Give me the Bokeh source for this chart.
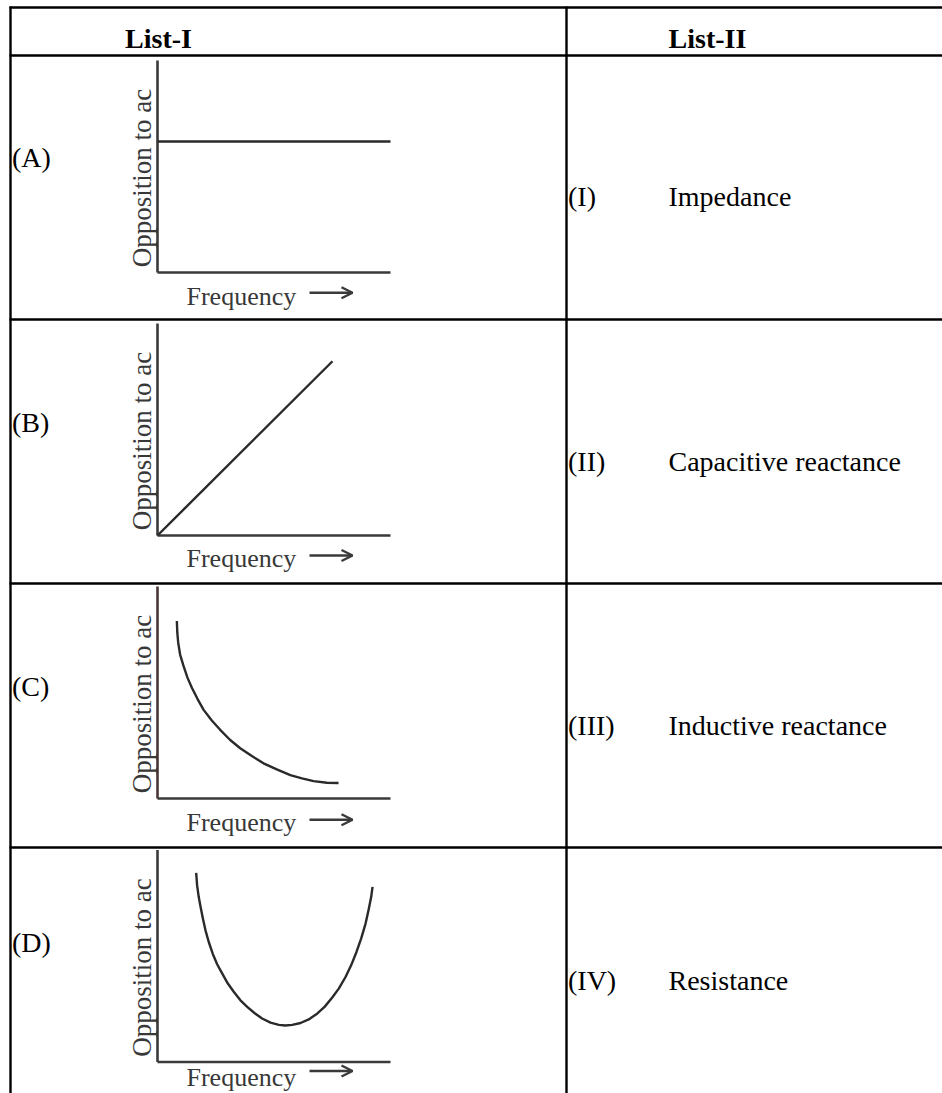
import math
from bokeh.plotting import figure
from bokeh.models import Range1d, Arrow, OpenHead
from bokeh.core.properties import value
from bokeh.embed import file_html
from bokeh.resources import INLINE

# ---------------- data ----------------
headers = ["List-I", "List-II"]
row_letters = ["(A)", "(B)", "(C)", "(D)"]
list2_numerals = ["(I)", "(II)", "(III)", "(IV)"]
list2_names = ["Impedance", "Capacitive reactance", "Inductive reactance", "Resistance"]
y_label = "Opposition to ac"
x_label = "Frequency"

# curves, in % of each small graph's axis length (frequency, opposition)
a_freq = [0, 100]
a_opp = [61.8, 61.8]
b_freq = [0, 75.1]
b_opp = [0, 82.2]
c_freq = [8.3, 8.5, 8.9, 9.7, 11.2, 12.9, 14.8, 17.2, 19.8, 23.3, 26.9, 31.2, 35.5, 40.5,
          45.5, 51.2, 57.0, 62.0, 67.0, 72.7, 77.7]
c_opp = [83.7, 78.2, 73.4, 67.9, 62.4, 56.9, 52.1, 46.9, 41.8, 36.8, 32.4, 27.6, 23.7, 20.0,
         16.6, 13.7, 11.0, 9.5, 8.2, 7.4, 7.3]
d_freq = [16.6, 17.0, 17.7, 18.5, 19.5, 20.6, 22.0, 23.7, 25.6, 27.8, 30.2, 32.8, 35.6, 38.5,
          41.6, 44.9, 48.5, 52.1, 54.9, 57.8, 61.4, 64.9, 68.5, 71.7, 75.0, 77.8, 80.7, 83.1,
          85.4, 87.4, 89.3, 90.7, 91.7, 92.3]
d_opp = [89.2, 83.3, 77.8, 73.1, 67.6, 62.1, 56.6, 51.1, 46.1, 41.7, 37.0, 33.0, 29.1, 26.0,
         23.1, 20.5, 18.6, 17.5, 17.2, 17.5, 18.4, 20.1, 22.8, 26.0, 30.4, 34.6, 40.1, 45.6,
         51.9, 58.2, 65.3, 72.3, 77.8, 82.6]
curve_freqs = [a_freq, b_freq, c_freq, d_freq]
curve_opps = [a_opp, b_opp, c_opp, d_opp]

# ---------------- layout (page pixels) ----------------
W, H = 942, 1093
FONT = value("Liberation Serif")
row_lines = [7, 55, 319, 583, 847]
col_lines = [10, 566]
graph_x0, graph_x1 = 157, 390
graph_h = 212
graph_origin_y = [272, 535, 798, 1061.5]
letter_baseline = [157, 421.7, 686, 941.7]
list2_baseline = [196, 460.7, 725, 980]
freq_baseline = [296, 558, 822, 1077]
arrow_y = [292.3, 555, 819.3, 1070.5]

p = figure(width=W, height=H, x_range=Range1d(0, W), y_range=Range1d(H, 0),
           output_backend="svg", toolbar_location=None, min_border=0,
           x_axis_location=None, y_axis_location=None)
p.grid.visible = False
p.outline_line_color = None
p.background_fill_color = "white"
p.border_fill_color = "white"

# table rules
p.segment(x0=[9] * len(row_lines), y0=row_lines, x1=[W] * len(row_lines), y1=row_lines,
          line_color="black", line_width=2.4)
p.segment(x0=col_lines, y0=[6, 6], x1=col_lines, y1=[H, H],
          line_color="black", line_width=2.4)

# headers
p.text(x=[158, 707], y=[37.5, 37.5], text=headers, text_font=FONT, text_font_size="28px",
       text_font_style="bold", text_align="center", text_baseline="alphabetic", text_color="black")

# list I letters
p.text(x=[11.5] * 4, y=letter_baseline, text=row_letters, text_font=FONT, text_font_size="28px",
       text_align="left", text_baseline="alphabetic", text_color="black")
# list II
p.text(x=[567.5] * 4, y=list2_baseline, text=list2_numerals, text_font=FONT, text_font_size="28px",
       text_align="left", text_baseline="alphabetic", text_color="black")
p.text(x=[668] * 4, y=list2_baseline, text=list2_names, text_font=FONT, text_font_size="28px",
       text_align="left", text_baseline="alphabetic", text_color="black")

AX = "#3a3a3a"
CURVE = "#2a2a2a"
LBL = "#383838"
for i in range(4):
    o = graph_origin_y[i]
    sp = p.subplot(x_source=Range1d(0, 100), y_source=Range1d(0, 100),
                   x_target=Range1d(graph_x0, graph_x1), y_target=Range1d(o, o - graph_h))
    vcol = "#4a3636" if i == 2 else AX
    sp.line(x=[0, 0], y=[100, 0], line_color=vcol, line_width=2.6)
    sp.line(x=[0, 100], y=[0, 0], line_color=AX, line_width=2.6)
    sp.line(x=curve_freqs[i], y=curve_opps[i], line_color=CURVE, line_width=2.4, line_join="round")

    # axis labels
    p.text(x=[141], y=[o - 94.5], text=[y_label], angle=math.pi / 2, text_font=FONT,
           text_font_size="27px", text_align="center", text_baseline="alphabetic", text_color=LBL)
    p.text(x=[186], y=[freq_baseline[i]], text=[x_label], text_font=FONT, text_font_size="26px",
           text_align="left", text_baseline="alphabetic", text_color=LBL)
    p.add_layout(Arrow(end=OpenHead(size=11, line_width=2.4, line_color=AX),
                       x_start=309, y_start=arrow_y[i], x_end=352, y_end=arrow_y[i],
                       line_width=2.4, line_color=AX))

open("out.html", "w").write(file_html(p, INLINE))
